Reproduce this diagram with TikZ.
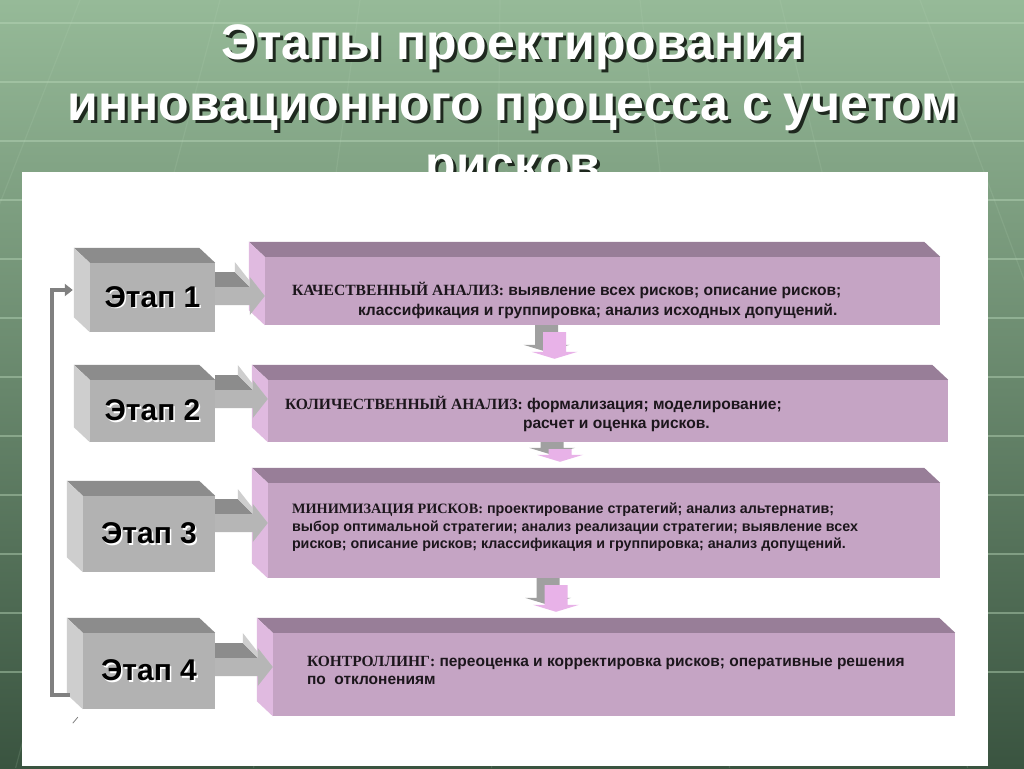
\documentclass[tikz,border=0pt]{standalone}
\usepackage{fontspec}
\setmainfont{Liberation Sans}
\newfontfamily\capsfont{Liberation Serif}
\usetikzlibrary{arrows.meta,positioning,calc}

\definecolor{bgtop}{RGB}{150,186,152}
\definecolor{bgbottom}{RGB}{58,84,64}
\definecolor{gridgreen}{RGB}{185,215,185}
\definecolor{titleshade}{RGB}{30,40,30}
\definecolor{stagefront}{RGB}{178,178,178}
\definecolor{stagetop}{RGB}{140,140,140}
\definecolor{stageside}{RGB}{206,206,206}
\definecolor{pinkfront}{RGB}{197,164,196}
\definecolor{pinktop}{RGB}{152,126,152}
\definecolor{pinkside}{RGB}{224,186,224}
\definecolor{droppink}{RGB}{232,178,232}
\definecolor{dropgray}{RGB}{160,160,160}
\definecolor{loopgray}{RGB}{128,128,128}
\definecolor{textdark}{RGB}{28,22,28}

\newcommand{\hd}[1]{{\capsfont #1}}
\newcommand{\shadowed}[3]{\leavevmode\rlap{\kern#2\lower#2\hbox{\color{#1}#3}}#3}

\newcommand{\boxdepth}[3]{%
	\fill[#2] (#1.north west) -- ++(-16,-15) -- ($(#1.north east)+(-16,-15)$) -- (#1.north east) -- cycle;
	\fill[#3] (#1.north west) -- ++(-16,-15) -- ($(#1.south west)+(-16,-15)$) -- (#1.south west) -- cycle;
}

\newcommand{\sidearrow}[3]{%
	\coordinate (sa) at ($(#1.east)+(0,#3)$);
	\coordinate (st) at (#2.west |- sa);
	\coordinate (sh) at ($(st)+(-15,0)$);
	\fill[stagetop] ($(sa)+(0,-9)$) -- ($(sh)+(0,-9)$) -- ($(sh)+(-15,-24)$) -- ($(sa)+(0,-24)$) -- cycle;
	\fill[stageside] ($(sh)+(0,-9)$) -- ($(sh)+(0,-19)$) -- (st) -- ($(st)+(-15,-15)$) -- ($(sh)+(-15,-34)$) -- ($(sh)+(-15,-24)$) -- cycle;
	\fill[stagefront!95!white] ($(sa)+(0,-9)$) -- ($(sh)+(0,-9)$) -- ($(sh)+(0,-19)$) -- (st) -- ($(sh)+(0,19)$) -- ($(sh)+(0,9)$) -- ($(sa)+(0,9)$) -- cycle;
}

\newcommand{\droparrow}[2]{%
	\coordinate (da) at ($(#1.south)+(-48,0)$);
	\coordinate (dt) at ($(da |- #2.north)+(0,-21)$);
	\foreach \dx/\dy/\col in {-8/-7/dropgray, 0/0/droppink}
		{\fill[\col] ($(da)+(-11.5+\dx,7+\dy)$) -- ($(dt)+(-11.5+\dx,-7+\dy)$) -- ($(dt)+(-23+\dx,-7+\dy)$) -- ($(dt)+(\dx,\dy)$) -- ($(dt)+(23+\dx,-7+\dy)$) -- ($(dt)+(11.5+\dx,-7+\dy)$) -- ($(da)+(11.5+\dx,7+\dy)$) -- cycle;}
}

\begin{document}
\begin{tikzpicture}[
		x=1pt, y=-1pt,
		titletext/.style={text=white, font=\bfseries\fontsize{50}{61}\selectfont, align=center, inner sep=0},
		stagebox/.style={fill=stagefront, inner sep=0, font=\bfseries\fontsize{30}{36}\selectfont},
		pinkbox/.style={fill=pinkfront, inner sep=0},
		infotext/.style n args={2}{anchor=west, align=left, inner sep=0, text=textdark, font=\bfseries\fontsize{#1}{#2}\selectfont},
		gridline/.style={gridgreen, line width=1.2pt, opacity=0.45},
		loopline/.style={loopgray, line width=4.5pt, -{Triangle[length=8pt,width=12pt]}}
	]
	\useasboundingbox (0,0) rectangle (1024,768);
	\shade[top color=bgtop, bottom color=bgbottom] (0,0) rectangle (1024,768);
	\foreach \y in {23,82,...,730}
		\draw[gridline] (0,\y) -- (1024,\y);
	\foreach \x in {-200,-60,80,220,360,500,640,780,920,1060,1200}
		\draw[gridline, opacity=0.15] (\x,0) -- ({512+(\x-512)*1.7},768);

	\node[titletext] (title) at (513,110) {\shadowed{titleshade}{3pt}{Этапы проектирования}\\\shadowed{titleshade}{3pt}{инновационного процесса с учетом}\\\shadowed{titleshade}{3pt}{рисков}};

	\fill[white] (22,172) rectangle (988,766);

	\node[pinkbox, minimum width=675pt, minimum height=68pt] (p1) at (602.5,291)   {};
	\node[pinkbox, minimum width=680pt, minimum height=62pt] (p2) at (608,411)     {};
	\node[pinkbox, minimum width=672pt, minimum height=95pt] (p3) at (604,530.5)   {};
	\node[pinkbox, minimum width=682pt, minimum height=83pt] (p4) at (614,674.5)   {};
	\foreach \p in {p1,p2,p3,p4}
		{\boxdepth{\p}{pinktop}{pinkside}}

	\node[infotext={15.6}{20}] (t1) at ($(p1.west)+(27,9)$)   {\hd{КАЧЕСТВЕННЫЙ АНАЛИЗ:} выявление всех рисков; описание рисков;\\\hspace*{66pt}классификация и группировка; анализ исходных допущений.};
	\node[infotext={15.6}{19}] (t2) at ($(p2.west)+(17,2.5)$) {\hd{КОЛИЧЕСТВЕННЫЙ АНАЛИЗ:} формализация; моделирование;\\\hspace*{238pt}расчет и оценка рисков.};
	\node[infotext={14.3}{17.5}] (t3) at ($(p3.west)+(24,-3)$)  {\hd{МИНИМИЗАЦИЯ РИСКОВ:} проектирование стратегий; анализ альтернатив;\\выбор оптимальной стратегии; анализ реализации стратегии; выявление всех\\рисков; описание рисков; классификация и группировка; анализ допущений.};
	\node[infotext={15.5}{18}] (t4) at ($(p4.west)+(34,-4.5)$) {\hd{КОНТРОЛЛИНГ:} переоценка и корректировка рисков; оперативные решения\\по\ \ отклонениям};

	\droparrow{p1}{p2}
	\droparrow{p2}{p3}
	\droparrow{p3}{p4}

	\node[stagebox, minimum width=125pt, minimum height=69pt] (s1) at (152.5,297.5) {\shadowed{white}{1.5pt}{Этап 1}};
	\node[stagebox, minimum width=125pt, minimum height=62pt] (s2) at (152.5,411)   {\shadowed{white}{1.5pt}{Этап 2}};
	\node[stagebox, minimum width=132pt, minimum height=76pt] (s3) at (149,534)     {\shadowed{white}{1.5pt}{Этап 3}};
	\node[stagebox, minimum width=132pt, minimum height=76pt] (s4) at (149,671)     {\shadowed{white}{1.5pt}{Этап 4}};
	\foreach \s in {s1,s2,s3,s4}
		{\boxdepth{\s}{stagetop}{stageside}}

	\sidearrow{s1}{p1}{-1.5}
	\sidearrow{s2}{p2}{-12}
	\sidearrow{s3}{p3}{-11}
	\sidearrow{s4}{p4}{-4}

	\coordinate (loopout) at ($(s4.west)+(-13,24)$);
	\coordinate (loopin)  at ($(s1.west)+(-17,-7.5)$);
	\draw[loopline] (loopout) -- ++(-18,0) |- (loopin);
	\draw[loopgray, line width=0.8pt] ($(s4.south west)+(-10,14)$) -- ++(5,-6);
\end{tikzpicture}
\end{document}
